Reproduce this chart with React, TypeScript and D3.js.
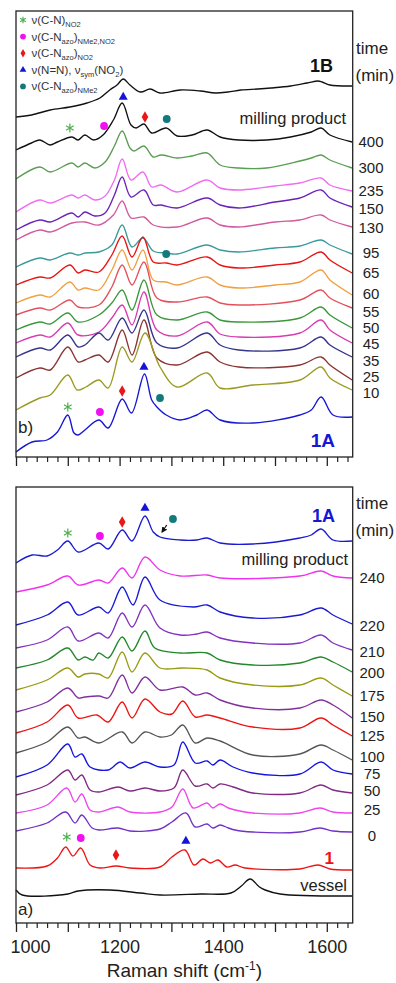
import React, { useEffect, useRef } from "react";
import * as d3 from "d3";

type Pt = [number, number];

// ---- panel b) (top): [wavenumber cm-1, intensity a.u. incl. stacking offset]
const top1B: Pt[] = [[1000,340],[1030,342],[1066,347],[1104,350],[1137,354],[1162,359],[1181,367],[1195,372],[1207,378],[1220,372],[1240,365],[1259,368],[1278,364],[1317,367],[1356,366],[1385,364],[1409,365],[1434,367],[1467,368],[1492,369],[1530,371],[1562,374],[1583,376],[1591,375],[1606,372],[1649,371]];
const top400: Pt[] = [[1000,307],[1030,314],[1046,317],[1066,312],[1080,315],[1108,320],[1120,317],[1133,322],[1150,317],[1168,322],[1188,337],[1205,354],[1222,332],[1232,329],[1247,333],[1262,324],[1290,329],[1311,321],[1340,322],[1369,327],[1394,320],[1430,317],[1484,317],[1530,320],[1570,325],[1589,329],[1606,322],[1649,315]];
const top300: Pt[] = [[1000,278],[1046,290],[1066,285],[1108,294],[1120,290],[1133,294],[1152,289],[1172,295],[1190,311],[1205,326],[1220,309],[1228,306],[1247,311],[1265,300],[1280,302],[1311,299],[1340,301],[1369,304],[1394,292],[1430,289],[1484,289],[1548,296],[1570,299],[1589,302],[1606,297],[1649,289]];
const top235: Pt[] = [[1000,245],[1046,257],[1066,254],[1108,262],[1120,259],[1133,262],[1152,257],[1172,261],[1190,277],[1205,298],[1222,277],[1245,285],[1262,270],[1280,272],[1311,265],[1369,277],[1394,269],[1430,267],[1500,271],[1548,274],[1589,279],[1606,272],[1649,266]];
const top150: Pt[] = [[1000,227],[1046,237],[1066,235],[1108,244],[1120,240],[1133,245],[1152,241],[1172,244],[1190,262],[1205,280],[1222,260],[1247,267],[1265,252],[1280,252],[1311,249],[1369,259],[1394,252],[1430,249],[1500,255],[1548,259],[1589,267],[1606,259],[1649,250]];
const top130: Pt[] = [[1000,217],[1046,227],[1066,225],[1108,234],[1133,235],[1160,232],[1188,242],[1205,256],[1222,239],[1247,240],[1265,232],[1311,230],[1369,239],[1394,232],[1430,230],[1500,235],[1548,237],[1589,242],[1606,237],[1649,230]];
const top95: Pt[] = [[1000,190],[1046,199],[1066,197],[1104,204],[1120,202],[1133,204],[1160,205],[1185,212],[1205,232],[1224,210],[1245,219],[1265,206],[1290,204],[1311,203],[1369,212],[1394,207],[1430,205],[1500,209],[1548,211],[1589,217],[1606,212],[1649,203]];
const top65: Pt[] = [[1000,172],[1046,180],[1066,179],[1104,192],[1120,184],[1133,187],[1160,185],[1185,202],[1205,221],[1224,200],[1245,220],[1265,195],[1290,194],[1311,192],[1369,200],[1394,192],[1430,189],[1500,192],[1548,195],[1589,205],[1606,197],[1649,184]];
const top60: Pt[] = [[1000,154],[1046,162],[1066,160],[1104,175],[1120,167],[1133,169],[1160,167],[1185,187],[1205,207],[1224,187],[1245,207],[1265,177],[1290,175],[1311,172],[1369,180],[1394,172],[1430,169],[1500,172],[1548,175],[1589,187],[1606,177],[1649,162]];
const top55: Pt[] = [[1000,142],[1046,149],[1066,147],[1104,157],[1120,150],[1160,152],[1185,170],[1205,192],[1224,172],[1247,195],[1272,159],[1311,155],[1369,160],[1394,154],[1430,152],[1548,157],[1589,167],[1606,159],[1649,149]];
const top50: Pt[] = [[1000,127],[1046,135],[1066,133],[1100,144],[1120,135],[1160,142],[1185,154],[1205,167],[1224,147],[1247,177],[1272,142],[1311,137],[1369,145],[1394,137],[1430,135],[1548,139],[1589,150],[1606,142],[1649,129]];
const top45: Pt[] = [[1000,114],[1046,122],[1066,120],[1100,134],[1120,122],[1160,125],[1185,139],[1205,152],[1224,132],[1247,165],[1272,127],[1311,121],[1369,135],[1394,123],[1430,120],[1548,124],[1589,137],[1606,127],[1649,114]];
const top35: Pt[] = [[1000,100],[1046,109],[1066,107],[1100,122],[1120,110],[1133,112],[1160,124],[1178,117],[1205,139],[1224,124],[1247,147],[1272,114],[1311,109],[1369,124],[1394,112],[1430,107],[1548,109],[1589,120],[1606,112],[1649,100]];
const top25: Pt[] = [[1000,79],[1046,89],[1066,87],[1100,110],[1120,95],[1133,97],[1160,102],[1178,95],[1205,127],[1224,102],[1247,137],[1272,99],[1311,92],[1369,105],[1394,95],[1430,90],[1548,92],[1589,100],[1606,92],[1649,77]];
const top10: Pt[] = [[1000,47],[1046,59],[1066,62],[1100,82],[1118,67],[1135,70],[1160,77],[1178,69],[1205,110],[1224,95],[1249,124],[1278,90],[1311,70],[1369,84],[1394,69],[1457,72],[1548,77],[1589,90],[1606,79],[1649,67]];
const top1A: Pt[] = [[1000,5],[1031,15],[1060,17],[1080,25],[1100,42],[1112,24],[1120,22],[1133,27],[1160,37],[1178,29],[1205,58],[1223,44],[1248,83],[1262,57],[1272,50],[1290,42],[1317,37],[1349,42],[1369,47],[1394,37],[1458,34],[1548,42],[1570,47],[1589,60],[1612,42],[1649,40]];

// ---- panel a) (bottom)
const bot1A: Pt[] = [[1000,360],[1031,368],[1060,367],[1080,373],[1100,382],[1120,371],[1160,380],[1178,374],[1205,393],[1224,382],[1249,407],[1265,391],[1278,386],[1317,383],[1349,383],[1369,385],[1394,380],[1457,379],[1548,385],[1570,388],[1589,394],[1612,383],[1649,382]];
const bot240: Pt[] = [[1000,331],[1060,338],[1100,347],[1120,338],[1160,343],[1178,340],[1205,355],[1224,345],[1249,366],[1278,353],[1317,347],[1369,348],[1394,345],[1548,347],[1589,352],[1612,347],[1649,345]];
const bot220: Pt[] = [[1000,298],[1060,308],[1100,321],[1120,308],[1160,316],[1178,310],[1205,336],[1226,318],[1249,346],[1278,323],[1342,316],[1369,318],[1394,311],[1457,305],[1548,308],[1589,315],[1612,308],[1649,299]];
const bot210: Pt[] = [[1000,275],[1060,283],[1100,296],[1120,282],[1160,290],[1178,285],[1205,310],[1224,296],[1249,318],[1278,295],[1317,288],[1349,289],[1369,291],[1394,285],[1457,280],[1548,280],[1589,288],[1612,280],[1649,273]];
const bot200: Pt[] = [[1000,255],[1060,263],[1100,275],[1120,263],[1133,266],[1149,263],[1160,270],[1178,265],[1205,286],[1224,272],[1249,292],[1268,275],[1317,270],[1369,270],[1394,263],[1457,258],[1548,260],[1589,266],[1612,261],[1649,251]];
const bot175: Pt[] = [[1000,233],[1060,243],[1100,255],[1120,246],[1133,249],[1160,249],[1178,245],[1205,271],[1224,251],[1249,270],[1278,255],[1322,255],[1369,253],[1394,245],[1457,238],[1548,238],[1589,245],[1612,238],[1649,227]];
const bot150: Pt[] = [[1000,211],[1060,221],[1100,235],[1120,225],[1133,226],[1160,227],[1178,225],[1205,248],[1224,230],[1249,246],[1278,233],[1322,236],[1346,228],[1369,230],[1394,223],[1457,215],[1548,215],[1589,223],[1612,218],[1649,205]];
const bot125: Pt[] = [[1000,190],[1060,201],[1100,218],[1120,205],[1156,208],[1178,201],[1205,221],[1224,205],[1249,224],[1278,211],[1301,209],[1322,222],[1346,206],[1369,208],[1394,205],[1457,196],[1548,195],[1589,205],[1612,198],[1649,187]];
const bot100: Pt[] = [[1000,170],[1060,181],[1100,196],[1120,185],[1133,186],[1160,180],[1205,191],[1224,180],[1249,191],[1278,186],[1300,188],[1322,198],[1346,180],[1369,185],[1394,182],[1457,168],[1548,169],[1589,178],[1612,173],[1649,163]];
const bot75: Pt[] = [[1000,146],[1060,158],[1100,179],[1114,166],[1127,169],[1143,156],[1178,153],[1201,161],[1220,155],[1249,161],[1278,156],[1305,158],[1322,181],[1346,160],[1369,162],[1380,158],[1394,163],[1419,156],[1457,150],[1548,149],[1589,161],[1612,153],[1649,149]];
const bot50: Pt[] = [[1000,128],[1060,138],[1100,153],[1114,143],[1127,148],[1143,133],[1160,131],[1197,136],[1220,132],[1249,135],[1278,132],[1305,135],[1322,153],[1346,137],[1369,139],[1380,135],[1394,139],[1419,136],[1457,130],[1548,130],[1589,138],[1612,133],[1649,130]];
const bot25: Pt[] = [[1000,110],[1060,118],[1098,135],[1114,121],[1127,129],[1143,113],[1160,111],[1197,116],[1220,111],[1278,111],[1301,116],[1322,134],[1342,115],[1369,120],[1380,115],[1394,119],[1410,115],[1423,113],[1457,110],[1548,110],[1587,115],[1612,111],[1649,110]];
const bot0: Pt[] = [[1000,92],[1060,100],[1096,111],[1114,100],[1127,108],[1147,95],[1160,93],[1197,95],[1220,92],[1278,94],[1301,101],[1328,110],[1346,96],[1369,99],[1380,95],[1394,98],[1410,95],[1423,93],[1457,91],[1548,91],[1587,95],[1612,92],[1649,91]];
const bot1: Pt[] = [[1000,55],[1060,57],[1080,65],[1096,76],[1110,67],[1125,75],[1143,58],[1162,55],[1193,57],[1220,55],[1278,56],[1301,66],[1326,73],[1344,58],[1361,64],[1375,60],[1390,63],[1407,56],[1423,58],[1442,55],[1548,54],[1583,58],[1606,54],[1649,53]];
const botVessel: Pt[] = [[1000,33],[1012,28],[1100,29],[1120,32],[1181,33],[1240,30],[1278,28],[1356,29],[1415,30],[1435,37],[1452,44],[1470,36],[1481,33],[1510,29],[1649,27]];

// right-hand time labels and the intensity level they sit at
const topTimes = ["400", "300", "235", "150", "130", "95", "65", "60", "55", "50", "45", "35", "25", "10"];
const topTimeAt = [315, 289, 266, 248, 229, 204, 184, 163, 145, 129, 113, 96, 80, 64];
const botTimes = ["240", "220", "210", "200", "175", "150", "125", "100", "75", "50", "25", "0"];
const botTimeAt = [345, 297, 271, 250, 227, 206, 187, 166, 149, 132, 113, 87];

// band markers: [kind, wavenumber, intensity]
type Mk = [string, number, number];
const topMarks: Mk[] = [["ast",1104,329],["mag",1170,331],["tri",1207,360],["dia",1249,340],["teal",1291,338],["teal",1290,203],
  ["ast",1100,50],["mag",1162,45],["dia",1205,66],["tri",1247,90],["teal",1278,59]];
const botMarks: Mk[] = [["ast",1100,390],["mag",1162,387],["dia",1205,401],["tri",1249,415],["teal",1303,404],
  ["ast",1098,86],["mag",1125,85],["dia",1193,68],["tri",1328,82]];

const legendRows: [string, boolean][][] = [
  [["ν(C-N)", false], ["NO2", true]],
  [["ν(C-N", false], ["azo", true], [")", false], ["NMe2,NO2", true]],
  [["ν(C-N", false], ["azo", true], [")", false], ["NO2", true]],
  [["ν(N=N), ν", false], ["sym", true], ["(NO", false], ["2", true], [")", false]],
  [["ν(C-N", false], ["azo", true], [")", false], ["NMe2", true]],
];
const legendKinds = ["ast", "mag", "dia", "tri", "teal"];

const markColor: Record<string, string> = { ast: "#4caf50", mag: "#f010f0", dia: "#e81818", tri: "#1414d8", teal: "#137a7c" };

export default function App() {
  const svgRef = useRef<SVGSVGElement>(null);

  useEffect(() => {
    if (!svgRef.current) return;
    const svg = d3.select(svgRef.current);
    svg.selectAll("*").remove();

    const left = 16, right = 352.7;
    const x = d3.scaleLinear().domain([1000, 1650]).range([left, right]);
    const yTop = d3.scaleLinear().domain([0, 446]).range([457, 11]);
    const yBot = d3.scaleLinear().domain([0, 436]).range([923, 487]);

    const defs = svg.append("defs");
    defs.append("marker").attr("id", "arr").attr("viewBox", "0 0 10 10").attr("refX", 8).attr("refY", 5)
      .attr("markerWidth", 5).attr("markerHeight", 5).attr("orient", "auto")
      .append("path").attr("d", "M0,0 L10,5 L0,10 Z").attr("fill", "#111");

    const drawMark = (g: any, kind: string, cx: number, cy: number, s = 1) => {
      const sym = kind === "ast" ? d3.symbolAsterisk : kind === "tri" ? d3.symbolTriangle : kind === "dia" ? d3.symbolDiamond : d3.symbolCircle;
      const size = (kind === "ast" ? 55 : kind === "tri" ? 36 : kind === "dia" ? 38 : 48) * s;
      const p = g.append("path").attr("d", d3.symbol(sym, size)()).attr("transform", `translate(${cx},${cy})`);
      if (kind === "ast") p.attr("fill", "none").attr("stroke", markColor[kind]).attr("stroke-width", 1.2);
      else p.attr("fill", markColor[kind]);
    };

    const line = (y: d3.ScaleLinear<number, number>) =>
      d3.line<Pt>().x(d => x(d[0])).y(d => y(d[1])).curve(d3.curveCatmullRom.alpha(0.5));

    const panel = (y: d3.ScaleLinear<number, number>, series: { pts: Pt[]; color: string }[], marks: Mk[], showLabels: boolean) => {
      const [y0, y1] = y.range();
      const g = svg.append("g");
      series.forEach(s => {
        g.append("path").attr("d", line(y)(s.pts)).attr("fill", "none")
          .attr("stroke", s.color).attr("stroke-width", 1.35).attr("stroke-linejoin", "round");
      });
      marks.forEach(m => drawMark(g, m[0], x(m[1]), y(m[2])));

      g.append("rect").attr("x", left).attr("y", y1).attr("width", right - left).attr("height", y0 - y1)
        .attr("fill", "none").attr("stroke", "#222").attr("stroke-width", 1.3);

      const minor = d3.range(1000, 1651, 20).filter(v => v % 100 !== 0);
      const major = d3.range(1000, 1601, 100);
      g.append("g").attr("transform", `translate(0,${y0})`)
        .call(d3.axisBottom(x).tickValues(minor).tickSize(5).tickFormat(() => "") as any)
        .call((a: any) => a.select(".domain").remove())
        .selectAll("line").attr("stroke", "#222").attr("stroke-width", 1.2);
      const ax = g.append("g").attr("transform", `translate(0,${y0})`)
        .call(d3.axisBottom(x).tickValues(major).tickSize(9).tickPadding(8)
          .tickFormat((d: any) => (showLabels && d % 200 === 0 ? String(d) : "")) as any);
      ax.select(".domain").remove();
      ax.selectAll("line").attr("stroke", "#222").attr("stroke-width", 1.3);
      ax.selectAll("text").attr("font-size", 18).attr("fill", "#222").attr("font-family", "Arial, 'Liberation Sans', sans-serif");
      ax.selectAll("text").filter((d: any) => d === 1000).attr("dx", 14);
      return g;
    };

    const font = "Arial, 'Liberation Sans', sans-serif";

    // ---- top panel b)
    const gt = panel(yTop, [
      { pts: top1B, color: "#111" }, { pts: top400, color: "#111" }, { pts: top300, color: "#5a9e52" },
      { pts: top235, color: "#f06cf0" }, { pts: top150, color: "#6a22b8" }, { pts: top130, color: "#d25a9e" },
      { pts: top95, color: "#3a9a9a" }, { pts: top65, color: "#e81414" }, { pts: top60, color: "#f0a040" },
      { pts: top55, color: "#e4505a" }, { pts: top50, color: "#3a983a" }, { pts: top45, color: "#d83cb0" },
      { pts: top35, color: "#34348a" }, { pts: top25, color: "#8a3434" }, { pts: top10, color: "#9a9a22" },
      { pts: top1A, color: "#1616d4" },
    ], topMarks, false);

    // legend
    legendRows.forEach((row, i) => {
      const cy = 20 + i * 16.6;
      drawMark(gt, legendKinds[i], 23, cy, 0.55);
      const t = gt.append("text").attr("x", 31.5).attr("y", cy + 4).attr("font-size", 11.5).attr("fill", "#333").attr("font-family", font);
      let down = false;
      row.forEach(([s, sub]) => {
        const ts = t.append("tspan").text(s);
        if (sub) { ts.attr("font-size", 7.5); if (!down) ts.attr("dy", 3); down = true; }
        else { if (down) ts.attr("dy", -3); down = false; }
      });
    });

    topTimes.forEach((lab, i) => {
      svg.append("text").attr("x", 371).attr("y", yTop(topTimeAt[i])).attr("dy", "0.36em").attr("text-anchor", "middle")
        .attr("font-size", 15).attr("fill", "#222").attr("font-family", font).text(lab);
    });

    // ---- bottom panel a)
    const gb = panel(yBot, [
      { pts: bot1A, color: "#1a1ad2" }, { pts: bot240, color: "#f032f0" }, { pts: bot220, color: "#1a1ad2" },
      { pts: bot210, color: "#8232c0" }, { pts: bot200, color: "#22882a" }, { pts: bot175, color: "#9a9a14" },
      { pts: bot150, color: "#80309e" }, { pts: bot125, color: "#ee1414" }, { pts: bot100, color: "#555" },
      { pts: bot75, color: "#1414e0" }, { pts: bot50, color: "#802a84" }, { pts: bot25, color: "#ee44ee" },
      { pts: bot0, color: "#7032c4" }, { pts: bot1, color: "#ee1414" }, { pts: botVessel, color: "#111" },
    ], botMarks, true);

    gb.append("line").attr("x1", x(1291)).attr("y1", yBot(398)).attr("x2", x(1282)).attr("y2", yBot(391))
      .attr("stroke", "#111").attr("stroke-width", 1.2).attr("marker-end", "url(#arr)");

    botTimes.forEach((lab, i) => {
      svg.append("text").attr("x", 372).attr("y", yBot(botTimeAt[i])).attr("dy", "0.36em").attr("text-anchor", "middle")
        .attr("font-size", 15).attr("fill", "#222").attr("font-family", font).text(lab);
    });

    // ---- annotations
    const txt = (tx: number, ty: number, s: string, size: number, opts: { anchor?: string; weight?: string; fill?: string } = {}) =>
      svg.append("text").attr("x", tx).attr("y", ty).attr("font-size", size).attr("font-family", font)
        .attr("text-anchor", opts.anchor || "start").attr("font-weight", opts.weight || "normal")
        .attr("fill", opts.fill || "#222").text(s);

    txt(356, 54, "time", 17);
    txt(355.5, 81, "(min)", 17);
    txt(356, 509, "time", 17);
    txt(355.5, 536, "(min)", 17);
    txt(333, 72, "1B", 18, { anchor: "end", weight: "bold", fill: "#111" });
    txt(335, 447, "1A", 19, { anchor: "end", weight: "bold", fill: "#1616d4" });
    txt(335, 522, "1A", 18, { anchor: "end", weight: "bold", fill: "#1616d4" });
    txt(334, 864, "1", 17, { anchor: "end", weight: "bold", fill: "#ee1414" });
    txt(346, 124, "milling product", 16.5, { anchor: "end" });
    txt(348, 565, "milling product", 16.5, { anchor: "end" });
    txt(347, 891, "vessel", 16.5, { anchor: "end" });
    txt(18, 433, "b)", 17);
    txt(18, 915, "a)", 17);

    const title = svg.append("text").attr("x", (left + right) / 2).attr("y", 977).attr("text-anchor", "middle")
      .attr("font-size", 19).attr("font-family", font).attr("fill", "#222");
    title.append("tspan").text("Raman shift (cm");
    title.append("tspan").attr("font-size", 12).attr("dy", -7).text("-1");
    title.append("tspan").attr("dy", 7).text(")");
  }, []);

  return (
    <>
      <style>{`body{margin:0;background:#fff}`}</style>
      <svg ref={svgRef} width={396} height={983} style={{ display: "block", background: "#fff" }} />
    </>
  );
}
